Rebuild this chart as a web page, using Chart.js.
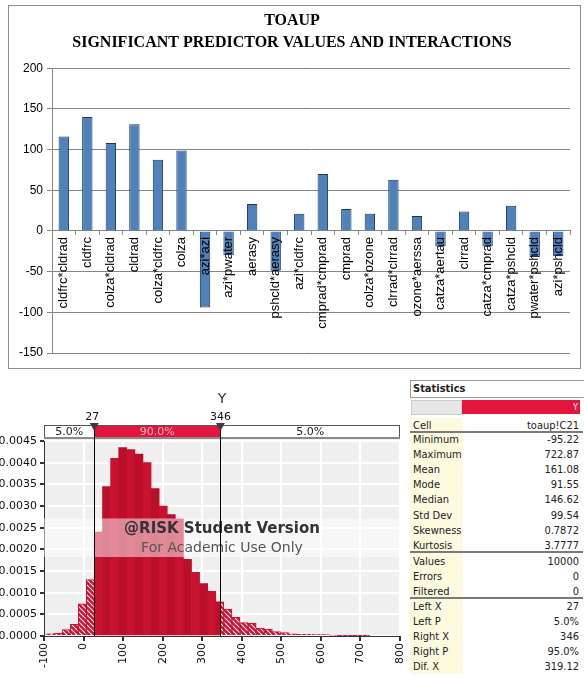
<!DOCTYPE html>
<html>
<head>
<meta charset="utf-8">
<script src="https://cdn.jsdelivr.net/npm/chart.js@4.4.1/dist/chart.umd.min.js"></script>
<style>
html, body { margin: 0; padding: 0; background: #fff; }
body { position: relative; width: 584px; height: 676px; overflow: hidden; }
#frame { position: absolute; left: 8px; top: 5px; width: 571px; height: 362px; border: 1px solid #8e8e8e; }
#topChart { position: absolute; left: 0; top: 0; }
#histChart { position: absolute; left: 0; top: 378px; }
#stats { position: absolute; left: 410px; top: 380px; width: 173px; height: 294px;
  font-family: 'Liberation Sans Narrow', 'DejaVu Sans Condensed', 'Liberation Sans', sans-serif; font-size: 11px; color: #222; }
#stats .hdr { position: absolute; left: 0; top: 0; width: 171px; height: 16px; border: 1px solid #999; font-weight: bold; line-height: 16px; padding-left: 2px; box-sizing: content-box; }
#stats .ycol { position: absolute; left: 0; top: 38px; width: 53px; height: 256px; background: #fcfbe0; }
#stats .row { position: absolute; left: 0; width: 171px; height: 15px; line-height: 15px; }
#stats .row .n { position: absolute; left: 3px; }
#stats .row .v { position: absolute; right: 2px; }
#stats .sep { position: absolute; left: 0; width: 173px; height: 0; border-top: 2px solid #7a7a7a; }
</style>
</head>
<body>
<div id="frame"></div>
<canvas id="topChart" width="584" height="370"></canvas>
<canvas id="histChart" width="405" height="298"></canvas>
<div id="stats"></div>
<script>
// top chart: predictor coefficients
const predictors = ['cldfrc*cldrad', 'cldfrc', 'colza*cldrad', 'cldrad', 'colza*cldfrc', 'colza',
  'azi*azi', 'azi*pwater', 'aerasy', 'pshcld*aerasy', 'azi*cldfrc', 'cmprad*cmprad', 'cmprad',
  'colza*ozone', 'clrrad*clrrad', 'ozone*aerssa', 'catza*aertau', 'clrrad', 'catza*cmprad',
  'catza*pshcld', 'pwater*pshcld', 'azi*pshcld'];
const effects = [116, 140, 108, 131, 87.5, 99, -94, -30, 33, -49, 21, 70, 27, 21, 63, 18.5, -19, 24, -19, 31, -32, -31];
const effectAxis = [-150, 200, 50];

// bottom chart: @RISK output distribution
const simMin = -95.22;
const simMax = 722.87;
const density = [0.00005, 0.00007, 0.00015, 0.00027, 0.00074, 0.0013, 0.0024, 0.00345, 0.0041, 0.00435,
  0.0043, 0.0042, 0.0040, 0.0034, 0.0030, 0.0028, 0.0027, 0.00177, 0.00147, 0.00121,
  0.00103, 0.00079, 0.00062, 0.00043, 0.00031, 0.00029, 0.00018, 0.00016, 0.00010, 0.00008,
  0.00005, 0.00004, 0.00004, 0.00003, 0.00003, 0.00002, 0.00001, 0.00001, 0.00001, 0.00001];
const densityAxis = [0, 0.0045, 0.0005];
const valueAxis = [-100, 800, 100];
const leftX = 27;
const rightX = 346;
const bandLabels = ['5.0%', '90.0%', '5.0%'];

const statNames = ['Cell', 'Minimum', 'Maximum', 'Mean', 'Mode', 'Median', 'Std Dev', 'Skewness', 'Kurtosis',
  'Values', 'Errors', 'Filtered', 'Left X', 'Left P', 'Right X', 'Right P', 'Dif. X'];
const statValues = ['toaup!C21', '-95.22', '722.87', '161.08', '91.55', '146.62', '99.54', '0.7872', '3.7777',
  '10000', '0', '0', '27', '5.0%', '346', '95.0%', '319.12'];

// ---------- top bar chart ----------
new Chart(document.getElementById('topChart'), {
  type: 'bar',
  data: {
    labels: predictors,
    datasets: [{
      data: effects,
      backgroundColor: '#4f81bd',
      borderColor: '#1d3557',
      borderWidth: 1,
      barPercentage: 0.44,
      categoryPercentage: 1
    }]
  },
  options: {
    responsive: false,
    animation: false,
    layout: { padding: { left: 14, right: 14, top: 8, bottom: 17 } },
    plugins: {
      legend: { display: false },
      tooltip: { enabled: false },
      title: {
        display: true,
        text: ['TOAUP', 'SIGNIFICANT PREDICTOR VALUES AND INTERACTIONS'],
        color: '#000',
        font: { family: 'Liberation Serif', size: 16, weight: 'bold', lineHeight: 1.35 },
        padding: { top: 2, bottom: 15 }
      }
    },
    scales: {
      x: {
        position: { y: 0 },
        grid: { drawOnChartArea: false, color: '#868686', tickLength: 4 },
        border: { color: '#868686' },
        ticks: {
          z: 1, autoSkip: false, minRotation: 90, maxRotation: 90, padding: 2, color: '#000',
          font: { family: 'Liberation Sans', size: 13 }
        },
        afterFit: s => { s.height = 0; }
      },
      y: {
        min: effectAxis[0],
        max: effectAxis[1],
        grid: { color: '#868686', tickLength: 5 },
        border: { color: '#868686' },
        ticks: { stepSize: effectAxis[2], padding: 4, color: '#000', font: { family: 'Liberation Sans', size: 12 } },
        afterFit: s => { s.width = 38; }
      }
    }
  }
});

// ---------- histogram ----------
const binWidth = (simMax - simMin) / density.length;
const bins = density.map((d, i) => ({ x: simMin + (i + 0.5) * binWidth, y: d }));

const hatchCanvas = document.createElement('canvas');
hatchCanvas.width = 5;
hatchCanvas.height = 5;
const hc = hatchCanvas.getContext('2d');
hc.fillStyle = '#cc1236';
hc.fillRect(0, 0, 5, 5);
hc.strokeStyle = '#ffffff';
hc.lineWidth = 1.1;
[-5, 0, 5].forEach(c => { hc.beginPath(); hc.moveTo(0, c); hc.lineTo(5, c + 5); hc.stroke(); });
const hatch = hc.createPattern(hatchCanvas, 'repeat');

const histDecor = {
  id: 'histDecor',
  beforeDraw(chart) {
    const { ctx, chartArea: a } = chart;
    ctx.save();
    ctx.fillStyle = '#efefef';
    ctx.fillRect(a.left, a.top - 3, a.right - a.left, a.bottom - a.top + 3);
    ctx.restore();
  },
  beforeDatasetDraw(chart, args) {
    const { ctx, chartArea: a, scales: { x } } = chart;
    const l = x.getPixelForValue(leftX), r = x.getPixelForValue(rightX);
    ctx.save();
    ctx.beginPath();
    if (args.index === 0) {
      ctx.rect(l, a.top, r - l, a.bottom - a.top);
    } else {
      ctx.rect(a.left, a.top, l - a.left, a.bottom - a.top);
      ctx.rect(r, a.top, a.right - r, a.bottom - a.top);
    }
    ctx.clip();
  },
  afterDatasetDraw(chart) {
    chart.ctx.restore();
  },
  afterDatasetsDraw(chart) {
    const { ctx, chartArea: a } = chart;
    const h = a.bottom - a.top, cx = (a.left + a.right) / 2;
    ctx.save();
    ctx.fillStyle = 'rgba(255,255,255,0.5)';
    ctx.fillRect(a.left, a.top + h * 0.397, a.right - a.left, h * 0.198);
    ctx.textAlign = 'center';
    ctx.textBaseline = 'middle';
    ctx.fillStyle = '#333';
    ctx.font = 'bold 15px "DejaVu Sans"';
    ctx.fillText('@RISK Student Version', cx, a.top + h * 0.452);
    ctx.fillStyle = '#555';
    ctx.font = '14px "DejaVu Sans"';
    ctx.fillText('For Academic Use Only', cx, a.top + h * 0.55);
    ctx.restore();
  },
  afterDraw(chart) {
    const { ctx, chartArea: a, scales: { x } } = chart;
    const l = x.getPixelForValue(leftX), r = x.getPixelForValue(rightX);
    const st = a.top - 16, sh = 13;
    ctx.save();
    ctx.fillStyle = '#fff';
    ctx.fillRect(a.left, st, a.right - a.left, sh);
    ctx.fillStyle = '#e2163c';
    ctx.fillRect(l, st, r - l, sh);
    ctx.strokeStyle = '#555';
    ctx.lineWidth = 1;
    ctx.strokeRect(a.left + 0.5, st + 0.5, a.right - a.left - 1, sh);
    ctx.fillStyle = '#8a8a8a';
    ctx.fillRect(a.left, st + sh - 1, a.right - a.left, 2);
    ctx.font = '11px "DejaVu Sans"';
    ctx.textAlign = 'center';
    ctx.textBaseline = 'middle';
    ctx.fillStyle = '#222';
    ctx.fillText(bandLabels[0], (a.left + l) / 2, st + sh / 2 + 0.5);
    ctx.fillText(bandLabels[2], (r + a.right) / 2, st + sh / 2 + 0.5);
    ctx.fillStyle = '#ffb4c4';
    ctx.fillText(bandLabels[1], (l + r) / 2, st + sh / 2 + 0.5);
    // cut-off lines
    ctx.strokeStyle = '#000';
    [l, r].forEach(px => {
      ctx.beginPath();
      ctx.moveTo(Math.round(px) + 0.5, st);
      ctx.lineTo(Math.round(px) + 0.5, a.bottom);
      ctx.stroke();
    });
    // markers
    ctx.fillStyle = '#3c3c3c';
    [l, r].forEach(px => {
      ctx.beginPath();
      ctx.moveTo(px - 4.5, st - 2);
      ctx.lineTo(px + 4.5, st - 2);
      ctx.lineTo(px, st + 6);
      ctx.closePath();
      ctx.fill();
    });
    ctx.fillStyle = '#111';
    ctx.textBaseline = 'alphabetic';
    ctx.fillText(String(leftX), l - 2, st - 5);
    ctx.fillText(String(rightX), r, st - 5);
    ctx.font = '14px "DejaVu Sans"';
    ctx.fillStyle = '#333';
    ctx.fillText('Y', (a.left + a.right) / 2, st - 22);
    ctx.restore();
  }
};

const solidColors = density.map((d, i) => i % 2 ? '#b90f2b' : '#c8122f');

new Chart(document.getElementById('histChart'), {
  type: 'bar',
  data: {
    datasets: [
      { label: 'Y', data: bins, backgroundColor: solidColors, borderWidth: 0, grouped: false, barPercentage: 1, categoryPercentage: 1 },
      { label: 'Y tails', data: bins, backgroundColor: hatch, borderColor: '#c8122f', borderWidth: 1, grouped: false, barPercentage: 1, categoryPercentage: 1 }
    ]
  },
  options: {
    responsive: false,
    animation: false,
    layout: { padding: { top: 63, right: 5, left: 0, bottom: 0 } },
    plugins: { legend: { display: false }, tooltip: { enabled: false } },
    scales: {
      x: {
        type: 'linear',
        offset: false,
        min: valueAxis[0],
        max: valueAxis[1],
        grid: { color: '#ffffff', lineWidth: 2, tickColor: '#333', tickLength: 5, offset: false },
        border: { color: '#333' },
        ticks: { stepSize: valueAxis[2], minRotation: 90, maxRotation: 90, padding: 2, color: '#111',
          font: { family: 'DejaVu Sans', size: 11 } },
        afterFit: s => { s.height = 40; s.paddingLeft = 0; s.paddingRight = 0; }
      },
      y: {
        min: densityAxis[0],
        max: densityAxis[1],
        grid: { color: '#ffffff', lineWidth: 2, tickColor: '#333', tickLength: 4 },
        border: { color: '#333' },
        ticks: { stepSize: densityAxis[2], padding: 3, color: '#111', font: { family: 'DejaVu Sans', size: 11 },
          callback: v => v.toFixed(4) },
        afterFit: s => { s.width = 44; }
      }
    }
  },
  plugins: [histDecor]
});

// ---------- statistics panel ----------
const stats = document.getElementById('stats');
let html = '<div class="hdr">Statistics</div>' +
  '<div style="position:absolute;left:1px;top:20px;width:49px;height:13px;background:#e6e6e6;border:1px solid #ccc"></div>' +
  '<div style="position:absolute;left:52px;top:20px;width:118px;height:14px;background:#e2163c;color:#fff;font-size:9px;line-height:14px;text-align:right;padding-right:2px;box-sizing:border-box">Y</div>' +
  '<div class="ycol"></div>';
statNames.forEach((n, i) => {
  let top;
  if (i === 0) top = 38;
  else if (i <= 8) top = 52 + (i - 1) * 15.1;
  else if (i <= 11) top = 173.5 + (i - 9) * 15.1;
  else top = 219 + (i - 12) * 15.1;
  html += '<div class="row" style="top:' + top + 'px"><span class="n">' + n + '</span><span class="v">' + statValues[i] + '</span></div>';
});
[50.5, 171, 216.5].forEach(y => { html += '<div class="sep" style="top:' + y + 'px"></div>'; });
stats.innerHTML = html;
</script>
</body>
</html>
